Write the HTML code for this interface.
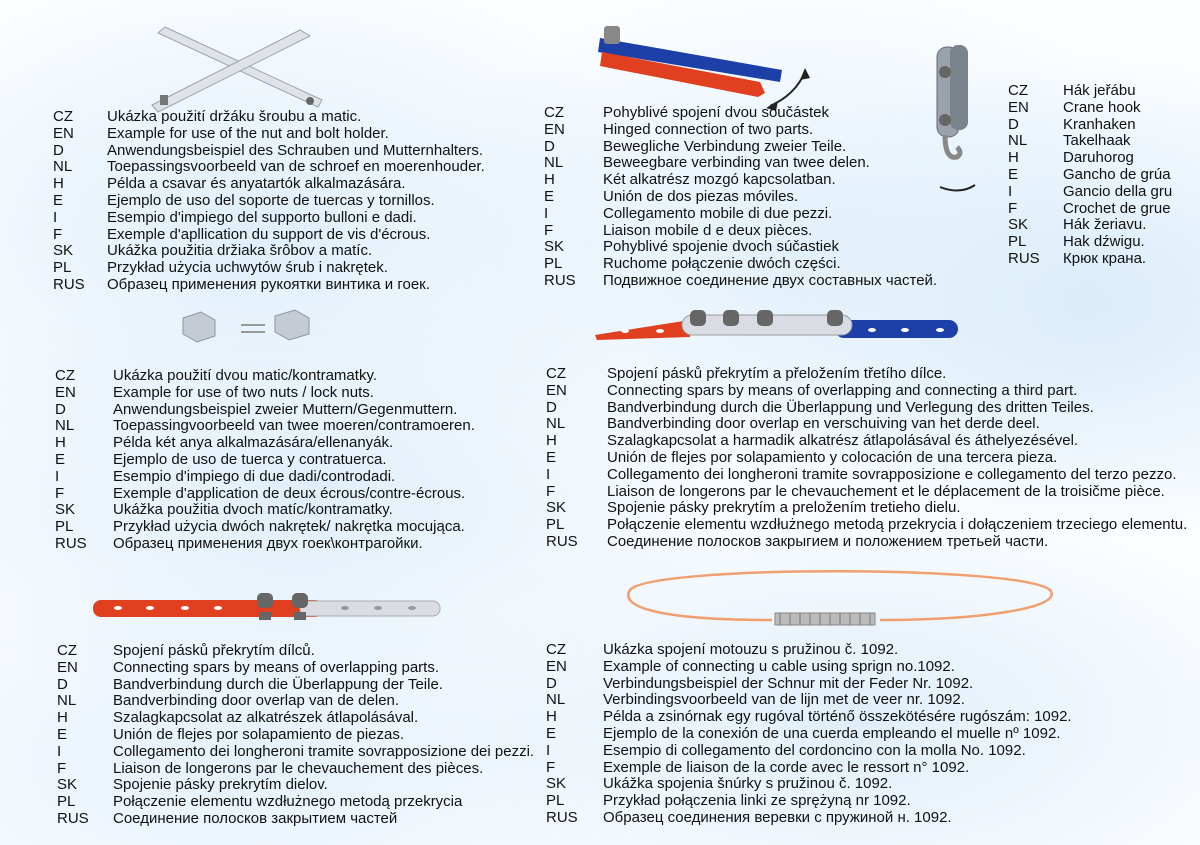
<!DOCTYPE html>
<html><head><meta charset="utf-8"><style>
body{margin:0;width:1200px;height:845px;overflow:hidden;position:relative;font-family:"Liberation Sans",Arial,sans-serif;font-size:15px;color:#111;
background:radial-gradient(ellipse 420px 260px at 260px 230px,#dfeefa 0%,rgba(223,238,250,0) 100%),radial-gradient(ellipse 420px 260px at 800px 250px,#e2f0fb 0%,rgba(226,240,251,0) 100%),radial-gradient(ellipse 380px 240px at 1080px 300px,#d8ebf9 0%,rgba(216,235,249,0) 100%),radial-gradient(ellipse 450px 220px at 300px 500px,#e0eefa 0%,rgba(224,238,250,0) 100%),radial-gradient(ellipse 450px 220px at 850px 720px,#e0eefa 0%,rgba(224,238,250,0) 100%),radial-gradient(ellipse 420px 200px at 250px 760px,#e4f0fb 0%,rgba(228,240,251,0) 100%),#fbfdff;}
.b{position:absolute;line-height:16.8px;white-space:nowrap}
.b div{height:16.8px;position:relative}
.b span{position:absolute;left:0}
svg{position:absolute;left:0;top:0}
</style></head><body>
<svg width="1200" height="845">
<g stroke="#9aa3ad" stroke-width="1" fill="#dfe3e8">
<polygon points="158,33 165,27 322,100 318,107"/>
<polygon points="152,105 300,30 310,36 158,112"/>
</g>
<rect x="160" y="95" width="8" height="10" fill="#777"/>
<circle cx="310" cy="101" r="4" fill="#666"/>
<g fill="#c5cbd2" stroke="#8d959e">
<path d="M183,318 l18,-6 l14,8 v16 l-18,6 l-14,-8z"/>
<path d="M275,316 l20,-6 l14,8 v16 l-20,6 l-14,-8z"/>
</g>
<rect x="241" y="324" width="24" height="2" fill="#999"/><rect x="241" y="331" width="24" height="2" fill="#999"/>
<polygon points="600,38 782,70 780,82 598,52" fill="#1d3fa8"/>
<polygon points="602,52 760,82 765,93 758,97 600,66" fill="#e0401f"/>
<rect x="604" y="26" width="16" height="18" rx="3" fill="#888"/>
<path d="M770,106 Q795,95 805,72" stroke="#222" stroke-width="2" fill="none"/>
<polygon points="805,68 800,80 810,78" fill="#222"/><polygon points="766,108 778,101 776,111" fill="#222"/>
<rect x="937" y="47" width="22" height="90" rx="10" fill="#9aa2ab" stroke="#667"/>
<rect x="950" y="45" width="18" height="85" rx="8" fill="#7b838c"/>
<circle cx="945" cy="72" r="6" fill="#666"/><circle cx="945" cy="120" r="6" fill="#666"/>
<path d="M945,135 q0,25 12,22 q6,-4 0,-10" stroke="#888" stroke-width="5" fill="none"/>
<path d="M940,187 Q960,195 975,185" stroke="#222" stroke-width="2" fill="none"/>
<polygon points="595,335 690,320 690,337 597,340" fill="#e0401f"/>
<rect x="835" y="320" width="123" height="18" rx="9" fill="#1d3fa8"/>
<rect x="682" y="315" width="170" height="20" rx="10" fill="#d9dde3" stroke="#999"/>
<g fill="#666"><rect x="690" y="310" width="16" height="16" rx="5"/><rect x="723" y="310" width="16" height="16" rx="5"/><rect x="757" y="310" width="16" height="16" rx="5"/><rect x="827" y="310" width="16" height="16" rx="5"/></g>
<g fill="#fff"><ellipse cx="625" cy="331" rx="4" ry="2"/><ellipse cx="660" cy="331" rx="4" ry="2"/><ellipse cx="872" cy="330" rx="4" ry="2"/><ellipse cx="905" cy="330" rx="4" ry="2"/><ellipse cx="940" cy="330" rx="4" ry="2"/></g>
<rect x="93" y="600" width="230" height="17" rx="8" fill="#e0401f"/>
<rect x="300" y="601" width="140" height="15" rx="7" fill="#d9dde3" stroke="#aaa"/>
<g fill="#fff"><ellipse cx="118" cy="608" rx="4" ry="2"/><ellipse cx="150" cy="608" rx="4" ry="2"/><ellipse cx="185" cy="608" rx="4" ry="2"/><ellipse cx="218" cy="608" rx="4" ry="2"/></g>
<g fill="#999"><ellipse cx="345" cy="608" rx="4" ry="2"/><ellipse cx="378" cy="608" rx="4" ry="2"/><ellipse cx="412" cy="608" rx="4" ry="2"/></g>
<g fill="#666"><rect x="257" y="593" width="16" height="15" rx="5"/><rect x="292" y="593" width="16" height="15" rx="5"/><rect x="259" y="612" width="12" height="8"/><rect x="294" y="612" width="12" height="8"/></g>
<path d="M772,620 C650,620 620,605 630,590 C650,565 1020,565 1050,590 C1065,608 980,620 880,620" stroke="#f0a070" stroke-width="2.5" fill="none"/>
<rect x="775" y="613" width="100" height="12" fill="#bbb" stroke="#888"/>
<path d="M780,613 v12 M790,613 v12 M800,613 v12 M810,613 v12 M820,613 v12 M830,613 v12 M840,613 v12 M850,613 v12 M860,613 v12 M870,613 v12" stroke="#777"/>
</svg>

<div class="b" style="left:53px;top:109px"><div><span>CZ</span><span style="left:54px">Ukázka použití držáku šroubu a matic.</span></div><div><span>EN</span><span style="left:54px">Example for use of the nut and bolt holder.</span></div><div><span>D</span><span style="left:54px">Anwendungsbeispiel des Schrauben und Mutternhalters.</span></div><div><span>NL</span><span style="left:54px">Toepassingsvoorbeeld van de schroef en moerenhouder.</span></div><div><span>H</span><span style="left:54px">Példa a csavar  és anyatartók alkalmazására.</span></div><div><span>E</span><span style="left:54px">Ejemplo de uso del soporte de tuercas y tornillos.</span></div><div><span>I</span><span style="left:54px">Esempio d'impiego del supporto bulloni e dadi.</span></div><div><span>F</span><span style="left:54px">Exemple d'apllication du support de vis d'écrous.</span></div><div><span>SK</span><span style="left:54px">Ukážka použitia držiaka šrôbov a matíc.</span></div><div><span>PL</span><span style="left:54px">Przykład użycia uchwytów śrub i nakrętek.</span></div><div><span>RUS</span><span style="left:54px">Образец применения рукоятки винтика и гоек.</span></div></div>

<div class="b" style="left:544px;top:105px"><div><span>CZ</span><span style="left:59px">Pohyblivé spojení dvou součástek</span></div><div><span>EN</span><span style="left:59px">Hinged connection of two parts.</span></div><div><span>D</span><span style="left:59px">Bewegliche Verbindung zweier Teile.</span></div><div><span>NL</span><span style="left:59px">Beweegbare verbinding van twee delen.</span></div><div><span>H</span><span style="left:59px">Két alkatrész mozgó kapcsolatban.</span></div><div><span>E</span><span style="left:59px">Unión de dos piezas móviles.</span></div><div><span>I</span><span style="left:59px">Collegamento mobile di due pezzi.</span></div><div><span>F</span><span style="left:59px">Liaison mobile d e deux pièces.</span></div><div><span>SK</span><span style="left:59px">Pohyblivé spojenie dvoch súčastiek</span></div><div><span>PL</span><span style="left:59px">Ruchome połączenie dwóch części.</span></div><div><span>RUS</span><span style="left:59px">Подвижное соединение двух составных частей.</span></div></div>

<div class="b" style="left:1008px;top:83px"><div><span>CZ</span><span style="left:55px">Hák jeřábu</span></div><div><span>EN</span><span style="left:55px">Crane hook</span></div><div><span>D</span><span style="left:55px">Kranhaken</span></div><div><span>NL</span><span style="left:55px">Takelhaak</span></div><div><span>H</span><span style="left:55px">Daruhorog</span></div><div><span>E</span><span style="left:55px">Gancho de grúa</span></div><div><span>I</span><span style="left:55px">Gancio della gru</span></div><div><span>F</span><span style="left:55px">Crochet de grue</span></div><div><span>SK</span><span style="left:55px">Hák žeriavu.</span></div><div><span>PL</span><span style="left:55px">Hak dźwigu.</span></div><div><span>RUS</span><span style="left:55px">Крюк крана.</span></div></div>

<div class="b" style="left:55px;top:368px"><div><span>CZ</span><span style="left:58px">Ukázka použití dvou matic/kontramatky.</span></div><div><span>EN</span><span style="left:58px">Example for use of two nuts / lock nuts.</span></div><div><span>D</span><span style="left:58px">Anwendungsbeispiel zweier Muttern/Gegenmuttern.</span></div><div><span>NL</span><span style="left:58px">Toepassingvoorbeeld van twee moeren/contramoeren.</span></div><div><span>H</span><span style="left:58px">Példa két anya alkalmazására/ellenanyák.</span></div><div><span>E</span><span style="left:58px">Ejemplo de uso de tuerca y contratuerca.</span></div><div><span>I</span><span style="left:58px">Esempio d'impiego di due dadi/controdadi.</span></div><div><span>F</span><span style="left:58px">Exemple d'application de deux écrous/contre-écrous.</span></div><div><span>SK</span><span style="left:58px">Ukážka použitia dvoch matíc/kontramatky.</span></div><div><span>PL</span><span style="left:58px">Przykład użycia dwóch nakrętek/ nakrętka mocująca.</span></div><div><span>RUS</span><span style="left:58px">Образец применения двух гоек\контрагойки.</span></div></div>

<div class="b" style="left:546px;top:366px"><div><span>CZ</span><span style="left:61px">Spojení pásků překrytím a přeložením třetího dílce.</span></div><div><span>EN</span><span style="left:61px">Connecting spars by means of overlapping and connecting a third part.</span></div><div><span>D</span><span style="left:61px">Bandverbindung durch die Überlappung und Verlegung des dritten Teiles.</span></div><div><span>NL</span><span style="left:61px">Bandverbinding door overlap en verschuiving van het derde deel.</span></div><div><span>H</span><span style="left:61px">Szalagkapcsolat a harmadik alkatrész átlapolásával és áthelyezésével.</span></div><div><span>E</span><span style="left:61px">Unión de flejes por solapamiento y colocación de una tercera pieza.</span></div><div><span>I</span><span style="left:61px">Collegamento dei longheroni tramite sovrapposizione e collegamento del  terzo pezzo.</span></div><div><span>F</span><span style="left:61px">Liaison de longerons par le chevauchement et le déplacement de la troisičme pièce.</span></div><div><span>SK</span><span style="left:61px">Spojenie pásky prekrytím a preložením tretieho dielu.</span></div><div><span>PL</span><span style="left:61px">Połączenie elementu wzdłużnego metodą przekrycia i dołączeniem trzeciego elementu.</span></div><div><span>RUS</span><span style="left:61px">Соединение полосков закрыгием и положением третьей части.</span></div></div>

<div class="b" style="left:57px;top:643px"><div><span>CZ</span><span style="left:56px">Spojení pásků překrytím dílců.</span></div><div><span>EN</span><span style="left:56px">Connecting spars by means of overlapping parts.</span></div><div><span>D</span><span style="left:56px">Bandverbindung durch die Überlappung der Teile.</span></div><div><span>NL</span><span style="left:56px">Bandverbinding door overlap van de delen.</span></div><div><span>H</span><span style="left:56px">Szalagkapcsolat az alkatrészek átlapolásával.</span></div><div><span>E</span><span style="left:56px">Unión de flejes por solapamiento de piezas.</span></div><div><span>I</span><span style="left:56px">Collegamento dei longheroni tramite sovrapposizione dei pezzi.</span></div><div><span>F</span><span style="left:56px">Liaison de longerons par le chevauchement des pièces.</span></div><div><span>SK</span><span style="left:56px">Spojenie pásky prekrytím dielov.</span></div><div><span>PL</span><span style="left:56px">Połączenie elementu wzdłużnego metodą przekrycia</span></div><div><span>RUS</span><span style="left:56px">Соединение полосков закрытием частей</span></div></div>

<div class="b" style="left:546px;top:642px"><div><span>CZ</span><span style="left:57px">Ukázka spojení motouzu s pružinou č. 1092.</span></div><div><span>EN</span><span style="left:57px">Example of connecting u cable using sprign no.1092.</span></div><div><span>D</span><span style="left:57px">Verbindungsbeispiel der Schnur mit der Feder Nr. 1092.</span></div><div><span>NL</span><span style="left:57px">Verbindingsvoorbeeld van de lijn met de veer nr. 1092.</span></div><div><span>H</span><span style="left:57px">Példa a zsinórnak egy rugóval történő összekötésére  rugószám: 1092.</span></div><div><span>E</span><span style="left:57px">Ejemplo de la conexión de una cuerda empleando el muelle nº 1092.</span></div><div><span>I</span><span style="left:57px">Esempio di collegamento del cordoncino con la molla No. 1092.</span></div><div><span>F</span><span style="left:57px">Exemple de liaison de la corde avec le ressort n° 1092.</span></div><div><span>SK</span><span style="left:57px">Ukážka spojenia šnúrky s pružinou č. 1092.</span></div><div><span>PL</span><span style="left:57px">Przykład połączenia linki ze sprężyną nr 1092.</span></div><div><span>RUS</span><span style="left:57px">Образец соединения веревки с пружиной н. 1092.</span></div></div>
</body></html>
